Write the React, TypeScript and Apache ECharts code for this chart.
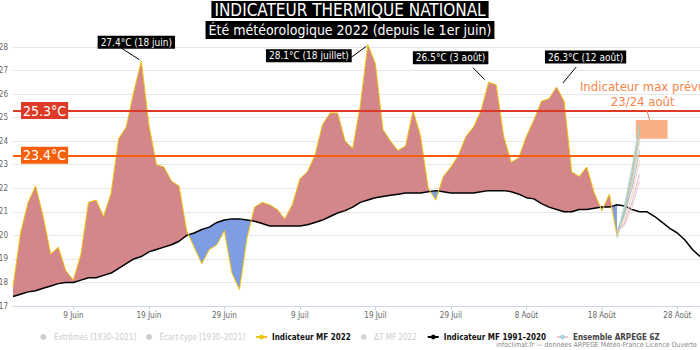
import React, { useEffect, useRef } from 'react';
import * as echarts from 'echarts';

// ---------- DATA ----------
const TICK_DAYS = [8, 18, 28, 38, 48, 58, 68, 78, 88];
const TICK_LABELS = ['9 Juin', '19 Juin', '29 Juin', '9 Juil', '19 Juil', '29 Juil', '8 Août', '18 Août', '28 Août'];

// Indicateur MF 2022, one value per day from 1 June (day 0) to 20 August (day 80)
const IND_2022 = [
  17.8, 20.1, 21.4, 22.1, 20.8, 19.2, 19.5, 18.5, 18.1, 19.2,
  21.4, 21.5, 20.8, 21.8, 24.1, 24.6, 26.1, 27.4, 24.7, 23.0,
  22.9, 22.3, 22.1, 20.2, 19.5, 18.8, 19.4, 19.6, 20.2, 18.4,
  17.7, 19.9, 21.2, 21.4, 21.3, 21.1, 20.7, 21.3, 22.4, 22.7,
  23.4, 24.7, 25.2, 25.2, 24.0, 23.7, 25.5, 28.1, 27.3, 24.5,
  24.0, 23.6, 23.8, 25.3, 24.2, 22.0, 21.5, 22.5, 22.9, 23.4,
  24.2, 24.6, 25.3, 26.5, 26.4, 24.2, 23.1, 23.3, 24.2, 24.9,
  25.7, 25.8, 26.3, 25.7, 22.7, 22.5, 22.9, 21.8, 21.05, 21.75,
  20.0,
];

// Indicateur MF 1991-2020 (normale), day 0 .. day 91 (31 August)
const NORMAL_1991_2020 = [
  17.4, 17.5, 17.6, 17.65, 17.75, 17.85, 17.95, 18.0, 18.0, 18.1,
  18.2, 18.2, 18.3, 18.4, 18.6, 18.8, 19.0, 19.1, 19.3, 19.4,
  19.5, 19.6, 19.75, 20.0, 20.1, 20.25, 20.35, 20.55, 20.65, 20.7,
  20.7, 20.65, 20.6, 20.5, 20.4, 20.4, 20.4, 20.4, 20.4, 20.45,
  20.55, 20.65, 20.8, 20.95, 21.05, 21.2, 21.4, 21.5, 21.6, 21.65,
  21.7, 21.75, 21.8, 21.8, 21.8, 21.85, 21.9, 21.85, 21.8, 21.8,
  21.8, 21.8, 21.85, 21.9, 21.9, 21.9, 21.85, 21.75, 21.6, 21.55,
  21.35, 21.2, 21.1, 21.0, 21.0, 21.1, 21.1, 21.15, 21.2, 21.2,
  21.3, 21.25, 21.1, 21.0, 21.0, 20.8, 20.55, 20.3, 20.1, 19.8,
  19.4, 19.1,
];

// Ensemble ARPEGE 6Z members, days 80..83
const ENS_START_DAY = 80;
const ENSEMBLE = [
  [20.0, 21.3, 22.9, 24.7],
  [19.9, 21.1, 22.7, 24.6],
  [20.1, 21.0, 22.5, 24.4],
  [20.0, 20.9, 22.3, 24.2],
  [19.9, 20.8, 22.2, 24.0],
  [20.2, 20.9, 22.0, 23.6],
  [20.0, 20.6, 21.7, 23.2],
  [20.1, 20.5, 21.4, 22.6],
  [20.2, 20.4, 21.2, 22.3],
  [19.9, 21.2, 22.8, 24.5],
];

const THRESHOLDS = [25.3, 23.4];
const THRESHOLD_LABELS = ['25.3°C', '23.4°C'];

const PEAK_DAYS = [17, 47, 63, 72];
const PEAK_LABELS = ['27.4°C (18 juin)', '28.1°C (18 juillet)', '26.5°C (3 août)', '26.3°C (12 août)'];

const FORECAST_BOX_DAYS = [82.5, 86.7];
const FORECAST_BOX_VALUES = [24.1, 24.9];
const FORECAST_TEXT = 'Indicateur max prévu\n23/24 août';

const TITLE = 'INDICATEUR THERMIQUE NATIONAL';
const SUBTITLE = 'Été météorologique 2022 (depuis le 1er juin)';
const CREDIT = 'infoclimat.fr — données ARPEGE Météo-France Licence Ouverte';

// ---------- STYLE ----------
const NARROW = "'Liberation Sans Narrow', 'Arial Narrow', 'DejaVu Sans Condensed', sans-serif";
const RED_FILL = '#d3878a';
const BLUE_FILL = '#7f9de2';
const YELLOW = '#efc20c';
const THRESH_COLORS = ['#dc3a26', '#f55f0a'];
const ENS_COLORS = ['#a8d4e6', '#9cc28a', '#b5b5b5', '#f3b0b0', '#c5e0b4', '#9ab8d8', '#f6c9a6', '#d8b4d8', '#f1c6c6', '#b9d9c9'];
// pixel offsets of peak label boxes (centre) and of connector ends, relative to the peak point
const PEAK_BOX_OFFSETS = [[-5, -19], [-59, 11], [-38, -24.5], [29, -30]];
const PEAK_LINE_OFFSETS = [[-20, -13], [-18.5, 14], [-15.7, -14.7], [19.7, -20]];
const PEAK_LINE_END = [[-2, -1.5], [-1.5, 1.7], [-4, -2.7], [6.3, -4]];

const S_EXT = 'Extrêmes [1930–2021]';
const S_STD = 'Écart-type [1930–2021]';
const S_2022 = 'Indicateur MF 2022';
const S_DT = 'ΔT MF 2022';
const S_NORM = 'Indicateur MF 1991–2020';
const S_ENS = 'Ensemble ARPEGE 6Z';

export default function App() {
  const ref = useRef<HTMLDivElement>(null);

  useEffect(() => {
    if (!ref.current) return;
    const chart = echarts.init(ref.current, null, { renderer: 'svg' });

    const fillData = IND_2022.map((v, i) => [i, v, NORMAL_1991_2020[i]]);

    const ensSeries = ENSEMBLE.map((m, k) => ({
      name: S_ENS,
      type: 'line',
      data: m.map((v, j) => [ENS_START_DAY + j, v]),
      symbol: 'none',
      silent: true,
      z: 5,
      lineStyle: { color: ENS_COLORS[k % ENS_COLORS.length], width: 1, opacity: 0.9 },
      itemStyle: { color: ENS_COLORS[k % ENS_COLORS.length] },
      ...(k === 0
        ? {
            markArea: {
              silent: true,
              label: { show: false },
              itemStyle: { color: 'rgba(247,140,80,0.7)' },
              data: [[{ coord: [FORECAST_BOX_DAYS[0], FORECAST_BOX_VALUES[1]] }, { coord: [FORECAST_BOX_DAYS[1], FORECAST_BOX_VALUES[0]] }]],
            },
          }
        : {}),
    }));

    const option: any = {
      animation: false,
      backgroundColor: '#ffffff',
      title: [
        {
          text: TITLE, left: 'center', top: 1, padding: [0, 3], backgroundColor: '#000',
          textStyle: { color: '#fff', fontSize: 17, fontWeight: 'normal', fontFamily: NARROW, lineHeight: 17 },
        },
        {
          text: SUBTITLE, left: 'center', top: 21, padding: [0, 3], backgroundColor: '#000',
          textStyle: { color: '#fff', fontSize: 14, fontWeight: 'normal', fontFamily: NARROW, lineHeight: 18 },
        },
      ],
      grid: { left: 13, right: 0, top: 47, bottom: 44, containLabel: false, outerBoundsMode: 'none' },
      legend: {
        top: 328, left: 'center', itemGap: 10, itemWidth: 11, itemHeight: 6,
        inactiveColor: '#cccccc',
        textStyle: { fontFamily: NARROW, fontSize: 8, fontWeight: 'bold', color: '#111' },
        data: [
          { name: S_EXT, icon: 'circle', textStyle: { fontWeight: 'normal' } },
          { name: S_STD, icon: 'circle', textStyle: { fontWeight: 'normal' } },
          { name: S_2022, lineStyle: { color: YELLOW, width: 2 } },
          { name: S_DT, icon: 'circle', textStyle: { fontWeight: 'normal' } },
          { name: S_NORM, lineStyle: { color: '#000', width: 2 } },
          { name: S_ENS, lineStyle: { color: '#f5c0c0', width: 2 }, textStyle: { color: '#444' } },
        ],
        selected: { [S_EXT]: false, [S_STD]: false, [S_DT]: false },
      },
      xAxis: {
        type: 'value', min: 0, max: 91,
        splitLine: { show: false },
        axisLine: { show: true, lineStyle: { color: '#ccd6eb' } },
        axisTick: { show: true, customValues: TICK_DAYS, length: 4, lineStyle: { color: '#ccd6eb' } },
        axisLabel: {
          customValues: TICK_DAYS, margin: 5, fontSize: 8, color: '#666', fontFamily: NARROW,
          formatter: (v: number) => TICK_LABELS[TICK_DAYS.indexOf(v)] ?? '',
        },
      },
      yAxis: {
        type: 'value', min: 17, max: 28, interval: 1,
        axisLine: { show: false }, axisTick: { show: false },
        axisLabel: { fontSize: 8, color: '#666', margin: 5, fontFamily: NARROW },
        splitLine: { lineStyle: { color: '#e6e6e6' } },
      },
      series: [
        { name: S_EXT, type: 'line', data: [], itemStyle: { color: '#aaa' } },
        { name: S_STD, type: 'line', data: [], itemStyle: { color: '#aaa' } },
        { name: S_DT, type: 'scatter', data: [], itemStyle: { color: '#aaa' } },
        {
          name: 'fill', type: 'custom', silent: true, z: 1, clip: false,
          data: fillData,
          encode: { x: 0, y: [1, 2] },
          renderItem: (params: any, api: any) => {
            if (params.dataIndexInside !== 0) return null;
            const N = params.dataInsideLength;
            const runs: { pts: number[][]; sign: number }[] = [];
            let cur: number[][] = [];
            let curSign = 0;
            let prev: number[] | null = null;
            for (let i = 0; i < N; i++) {
              const x = api.value(0, i), a = api.value(1, i), b = api.value(2, i);
              const d = a - b;
              const s = d > 0 ? 1 : d < 0 ? -1 : 0;
              if (prev) {
                const dp = prev[1] - prev[2];
                if (dp * d < 0) {
                  const t = dp / (dp - d);
                  const xc = prev[0] + t * (x - prev[0]);
                  const yc = prev[1] + t * (a - prev[1]);
                  cur.push([xc, yc, yc]);
                  runs.push({ pts: cur, sign: curSign });
                  cur = [[xc, yc, yc]];
                  curSign = 0;
                }
              }
              if (curSign === 0) curSign = s;
              cur.push([x, a, b]);
              prev = [x, a, b];
            }
            runs.push({ pts: cur, sign: curSign });
            const children = runs.map((r) => {
              const top = r.pts.map((p) => api.coord([p[0], p[1]]));
              const bot = r.pts.slice().reverse().map((p) => api.coord([p[0], p[2]]));
              return {
                type: 'polygon',
                shape: { points: top.concat(bot) },
                style: { fill: r.sign >= 0 ? RED_FILL : BLUE_FILL },
              };
            });
            return { type: 'group', children };
          },
        },
        {
          name: S_NORM, type: 'line', symbol: 'none', z: 3, silent: true,
          data: NORMAL_1991_2020.map((v, i) => [i, v]),
          lineStyle: { color: '#000', width: 1.5 }, itemStyle: { color: '#000' },
          markLine: {
            silent: true, symbol: ['none', 'none'], label: { show: false },
            data: THRESHOLDS.map((v, i) => ({ yAxis: v, lineStyle: { color: THRESH_COLORS[i], width: 2, type: 'solid' } })),
          },
        },
        {
          name: S_2022, type: 'line', symbol: 'none', z: 4, silent: true, clip: false,
          data: IND_2022.map((v, i) => [i, v]),
          lineStyle: { color: YELLOW, width: 1 }, itemStyle: { color: YELLOW },
        },
        ...ensSeries,
      ],
    };

    chart.setOption(option);

    const px = (d: number, v: number) => chart.convertToPixel({ xAxisIndex: 0, yAxisIndex: 0 }, [d, v]) as number[];
    const graphics: any[] = [];
    const gridLeft = px(0, 17)[0];

    THRESHOLDS.forEach((v, i) => {
      const p = px(0, v);
      graphics.push({
        type: 'text', x: gridLeft + 8, y: p[1], z: 20,
        style: {
          text: THRESHOLD_LABELS[i], fill: '#fff', backgroundColor: THRESH_COLORS[i], padding: [2, 2, 1, 2],
          font: `14px ${NARROW}`, align: 'left', verticalAlign: 'middle',
        },
      });
    });

    PEAK_DAYS.forEach((d, i) => {
      const p = px(d, IND_2022[d]);
      graphics.push({
        type: 'line', z: 20,
        shape: { x1: p[0] + PEAK_LINE_OFFSETS[i][0], y1: p[1] + PEAK_LINE_OFFSETS[i][1], x2: p[0] + PEAK_LINE_END[i][0], y2: p[1] + PEAK_LINE_END[i][1] },
        style: { stroke: '#000', lineWidth: 1 },
      });
      graphics.push({
        type: 'text', x: p[0] + PEAK_BOX_OFFSETS[i][0], y: p[1] + PEAK_BOX_OFFSETS[i][1], z: 21,
        style: {
          text: PEAK_LABELS[i], fill: '#fff', backgroundColor: '#000', padding: [2, 3, 1, 3],
          font: `10px ${NARROW}`, align: 'center', verticalAlign: 'middle',
        },
      });
    });

    const boxTop = px((FORECAST_BOX_DAYS[0] + FORECAST_BOX_DAYS[1]) / 2, FORECAST_BOX_VALUES[1]);
    graphics.push({
      type: 'line', z: 20,
      shape: { x1: boxTop[0] - 5, y1: boxTop[1] - 10, x2: boxTop[0] - 2, y2: boxTop[1] },
      style: { stroke: '#f5854a', lineWidth: 1 },
    });
    graphics.push({
      type: 'text', x: boxTop[0] - 9, y: boxTop[1] - 26, z: 20,
      style: {
        text: FORECAST_TEXT, fill: '#f5854a', font: `13px ${NARROW}`, align: 'center', verticalAlign: 'middle', lineHeight: 15,
      },
    });

    graphics.push({
      type: 'text', right: 3, top: 341, z: 20,
      style: { text: CREDIT, fill: '#888', font: `7px ${NARROW}` },
    });

    chart.setOption({ graphic: graphics });

    return () => chart.dispose();
  }, []);

  return <div ref={ref} style={{ position: 'fixed', left: 0, top: 0, width: 700, height: 350, background: '#fff' }} />;
}
